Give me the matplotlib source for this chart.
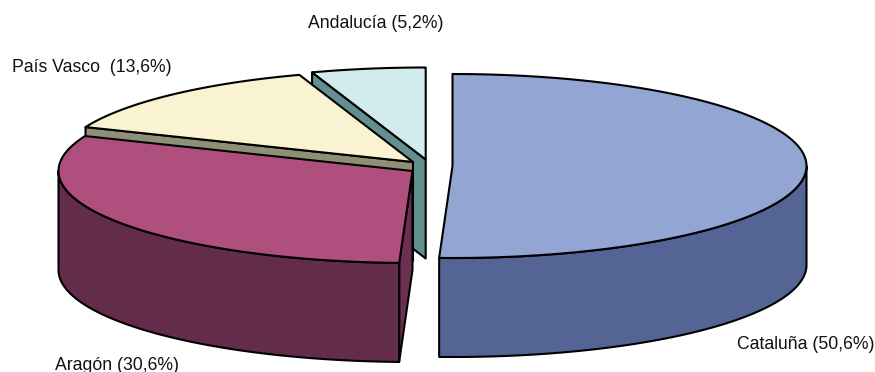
import numpy as np
import matplotlib
matplotlib.use("Agg")
import matplotlib.pyplot as plt
from matplotlib.patches import Polygon

plt.rcParams['font.family'] = ['Liberation Sans', 'DejaVu Sans']

regions = ['Cataluña', 'Aragón', 'País Vasco', 'Andalucía']
shares = [50.6, 30.6, 13.6, 5.2]
labels = ['Cataluña (50,6%)', 'Aragón (30,6%)', 'País Vasco  (13,6%)', 'Andalucía (5,2%)']

top_colors = ['#93A5D3', '#AE4F7E', '#F9F3D2', '#D2ECEE']
wall_colors = ['#546595', '#632C4A', '#632C4A', '#62908F']
cut_colors = ['#546595', '#6B2F50', '#8F8F78', '#62908F']

# apex of every slice in pixels, the pie is exploded
apex_x = [452.5, 412.5, 413, 425.7]
apex_y = [166, 171, 162, 159.5]
label_x = [737, 55, 12, 308]
label_y = [349, 370.5, 72.5, 28]

RX, RY = 354, 92
DEPTH = 99


def rim(cx, cy, t0, t1, n=120):
    t = np.radians(np.linspace(t0, t1, n))
    return np.column_stack([cx + RX * np.sin(t), cy - RY * np.cos(t)])


def add_poly(ax, pts, color):
    ax.add_patch(Polygon(pts, closed=True, facecolor=color, edgecolor='black',
                         linewidth=1.5, joinstyle='round'))


def draw_slice(ax, i, start, end):
    cx, cy = apex_x[i], apex_y[i]
    down = np.array([0, DEPTH])

    # cut face on the starting side, only seen on slices left of the middle
    if start > 0:
        edge = np.array([[cx, cy], rim(cx, cy, start, start, 1)[0]])
        add_poly(ax, np.vstack([edge, edge[::-1] + down]), cut_colors[i])

    # outer wall, front half of the rim only
    w0, w1 = max(start, 90), min(end, 270)
    if w0 < w1:
        arc = rim(cx, cy, w0, w1)
        add_poly(ax, np.vstack([arc, arc[::-1] + down]), wall_colors[i])

    add_poly(ax, np.vstack([[cx, cy], rim(cx, cy, start, end)]), top_colors[i])


fig = plt.figure(figsize=(8.75, 3.72), dpi=100)
ax = fig.add_axes([0, 0, 1, 1])
ax.set_xlim(0, 875)
ax.set_ylim(372, 0)
ax.axis('off')

angles = np.cumsum([0] + shares) / sum(shares) * 360

# back slices first
for i in [3, 2, 1, 0]:
    draw_slice(ax, i, angles[i], angles[i + 1])

for i in range(len(regions)):
    ax.text(label_x[i], label_y[i], labels[i], fontsize=12.7, color='#111111',
            ha='left', va='baseline')

fig.savefig('out.png', dpi=100)
